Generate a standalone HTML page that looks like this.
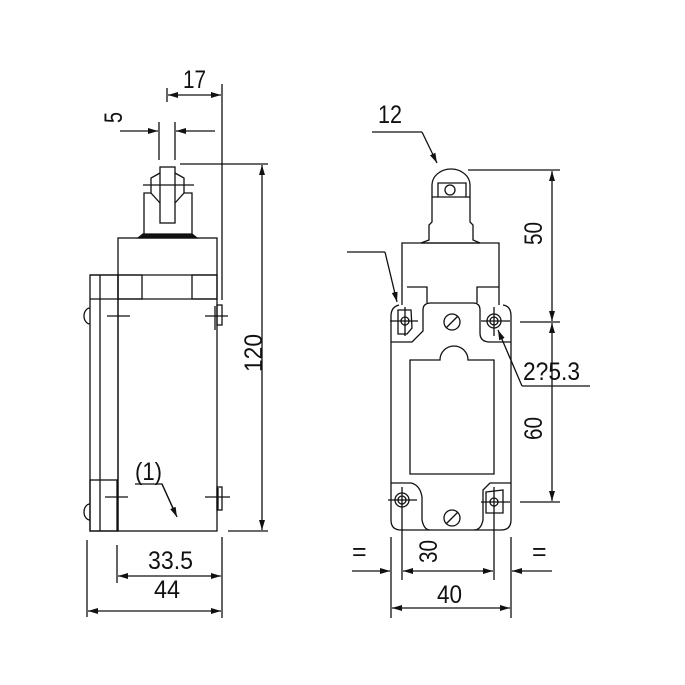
<!DOCTYPE html>
<html><head><meta charset="utf-8"><style>
html,body{margin:0;padding:0;background:#fff}
svg{display:block}
text{font-family:"Liberation Sans",sans-serif;font-size:25px;fill:#111}
</style></head><body>
<svg width="685" height="685" viewBox="0 0 685 685" xmlns="http://www.w3.org/2000/svg">
<defs>
<marker id="a" viewBox="0 0 10 6" refX="10" refY="3" markerWidth="10" markerHeight="6" orient="auto-start-reverse" markerUnits="userSpaceOnUse"><path d="M0,0L10,3L0,6z" fill="#111"/></marker>
</defs>
<g stroke="#111" stroke-width="1.3" fill="none">
<!-- LEFT VIEW -->
<line x1="167" y1="88" x2="167" y2="102"/>
<line x1="222" y1="84" x2="222" y2="300"/>
<line x1="168" y1="95" x2="221" y2="95" marker-start="url(#a)" marker-end="url(#a)"/>
<line x1="159" y1="122" x2="159" y2="160"/>
<line x1="175" y1="122" x2="175" y2="160"/>
<line x1="120" y1="131" x2="158" y2="131" marker-end="url(#a)"/>
<line x1="215" y1="131" x2="176" y2="131" marker-end="url(#a)"/>
<rect x="160" y="167" width="15" height="56"/>
<path d="M160,173 L151,178 L151,193 L160,203 M175,173 L184,178 L184,193 L175,203"/>
<path d="M144,237 L144,193 L151,193 M184,193 L192,193 L192,237"/>
<line x1="143" y1="185" x2="194" y2="185"/>
<path d="M138,238 L143,234 L192,234 L197,238 Z" fill="#111"/>
<rect x="118" y="238" width="99" height="293"/>
<line x1="90" y1="299" x2="217" y2="299"/>
<line x1="90" y1="275" x2="217" y2="275"/>
<rect x="118" y="275" width="24" height="24"/>
<rect x="192" y="275" width="25" height="24"/>
<rect x="90" y="275" width="28" height="256"/>
<line x1="100" y1="275" x2="100" y2="531"/>
<rect x="90" y="480" width="27" height="51"/>
<path d="M90,308 A6,8 0 0 0 90,324"/>
<path d="M90,504 A6,8 0 0 0 90,520"/>
<rect x="217" y="305" width="5" height="20"/>
<rect x="217" y="487" width="5" height="23"/>
<line x1="107" y1="316" x2="130" y2="316"/>
<line x1="205" y1="316" x2="228" y2="316"/><line x1="215" y1="306" x2="215" y2="330"/>
<line x1="105" y1="497" x2="128" y2="497"/>
<line x1="205" y1="497" x2="230" y2="497"/><line x1="218" y1="488" x2="218" y2="510"/>
<line x1="180" y1="164" x2="268" y2="164"/>
<line x1="228" y1="531" x2="268" y2="531"/>
<line x1="262" y1="165" x2="262" y2="530" marker-start="url(#a)" marker-end="url(#a)"/>
<polyline points="135,484 162,484 176,515"/>
<line x1="162" y1="484" x2="177" y2="517" marker-end="url(#a)"/>
<line x1="222" y1="537" x2="222" y2="618"/>
<line x1="117" y1="545" x2="117" y2="583"/>
<line x1="87" y1="540" x2="87" y2="617"/>
<line x1="118" y1="576" x2="221" y2="576" marker-start="url(#a)" marker-end="url(#a)"/>
<line x1="88" y1="611" x2="221" y2="611" marker-start="url(#a)" marker-end="url(#a)"/>

<!-- RIGHT VIEW -->
<polyline points="372,132 422,132"/>
<line x1="422" y1="132" x2="437" y2="163" marker-end="url(#a)"/>
<path d="M432,197 L432,185 A19,16 0 0 1 470,185 L470,197 Z"/>
<path d="M438,197 L438,183 L466,183 L466,197"/>
<circle cx="450" cy="190" r="5"/>
<path d="M432,197 L432,222 L429,225 L429,240 L421,243 M470,197 L470,222 L473,225 L473,240 L480,243"/>
<line x1="421" y1="243" x2="480" y2="243"/>
<path d="M402,305 L402,243 L499,243 L499,305"/>
<path d="M407,287 L427,287 L427,303 M477,303 L477,287 L499,287"/>
<path d="M399,305 Q391,307 391,316 L391,520 Q391,530 401,530 L501,530 Q511,530 511,520 L511,316 Q511,306 503,305"/>
<path d="M391,342 L412,342 L423,331 L423,310 Q423,303 431,303 L473,303 Q480,303 480,310 L480,333 Q480,342 490,342 L511,342"/>
<path d="M391,483 L411,483 Q420,485 422,497 L422,520 Q424,530 430,530 M511,483 L490,483 L483,490 L483,520 Q481,530 474,530"/>
<path d="M410,474 L410,360 L440,360 A14,14 0 0 1 468,360 L494,360 L494,474 Z"/>
<circle cx="452" cy="322" r="8"/><line x1="446" y1="328" x2="458" y2="316"/>
<circle cx="452" cy="518" r="8"/><line x1="446" y1="524" x2="458" y2="512"/>
<path d="M398,310 L411,310 L412,328 L407,334 L398,334 Z"/><circle cx="405" cy="321" r="4"/>
<line x1="390" y1="321" x2="418" y2="321"/><line x1="405" y1="307" x2="405" y2="336"/>
<circle cx="494" cy="321" r="7"/><circle cx="494" cy="321" r="4"/>
<line x1="481" y1="321" x2="510" y2="321"/><line x1="494" y1="307" x2="494" y2="336"/>
<circle cx="402" cy="500" r="7"/><circle cx="402" cy="500" r="4"/>
<line x1="388" y1="500" x2="417" y2="500"/><line x1="402" y1="487" x2="402" y2="580"/>
<path d="M486,492 L503,490 L503,513 L486,513 Z"/><circle cx="494" cy="502" r="4"/>
<line x1="481" y1="502" x2="510" y2="502"/><line x1="494" y1="487" x2="494" y2="580"/>
<polyline points="347,252 385,252"/>
<line x1="385" y1="252" x2="397" y2="302" marker-end="url(#a)"/>
<line x1="468" y1="170" x2="560" y2="170"/>
<line x1="520" y1="322" x2="560" y2="322"/>
<line x1="520" y1="502" x2="560" y2="502"/>
<line x1="552" y1="171" x2="552" y2="321" marker-start="url(#a)" marker-end="url(#a)"/>
<line x1="552" y1="323" x2="552" y2="501" marker-start="url(#a)" marker-end="url(#a)"/>
<polyline points="590,386 522,386"/>
<line x1="522" y1="386" x2="498" y2="330" marker-end="url(#a)"/>
<line x1="391" y1="537" x2="391" y2="618"/>
<line x1="511" y1="537" x2="511" y2="618"/>
<line x1="403" y1="571" x2="493" y2="571" marker-start="url(#a)" marker-end="url(#a)"/>
<line x1="352" y1="571" x2="390" y2="571" marker-end="url(#a)"/>
<line x1="552" y1="571" x2="512" y2="571" marker-end="url(#a)"/>
<line x1="392" y1="608" x2="510" y2="608" marker-start="url(#a)" marker-end="url(#a)"/>
</g>
<g>
<text x="183" y="88" textLength="23" lengthAdjust="spacingAndGlyphs">17</text>
<text transform="translate(122,123) rotate(-90)" textLength="11" lengthAdjust="spacingAndGlyphs">5</text>
<text transform="translate(262,372) rotate(-90)" textLength="38" lengthAdjust="spacingAndGlyphs">120</text>
<text x="135" y="480" textLength="27" lengthAdjust="spacingAndGlyphs">(1)</text>
<text x="148" y="569" textLength="45" lengthAdjust="spacingAndGlyphs">33.5</text>
<text x="154" y="598" textLength="26" lengthAdjust="spacingAndGlyphs">44</text>
<text x="378" y="123" textLength="24" lengthAdjust="spacingAndGlyphs">12</text>
<text transform="translate(542,245) rotate(-90)" textLength="23" lengthAdjust="spacingAndGlyphs">50</text>
<text transform="translate(542,440) rotate(-90)" textLength="23" lengthAdjust="spacingAndGlyphs">60</text>
<text x="523" y="380" textLength="57" lengthAdjust="spacingAndGlyphs">2?5.3</text>
<text transform="translate(437,563) rotate(-90)" textLength="23" lengthAdjust="spacingAndGlyphs">30</text>
<text x="437" y="603" textLength="25" lengthAdjust="spacingAndGlyphs">40</text>
<text x="352" y="560">=</text>
<text x="532" y="560">=</text>
</g>
</svg>
</body></html>
